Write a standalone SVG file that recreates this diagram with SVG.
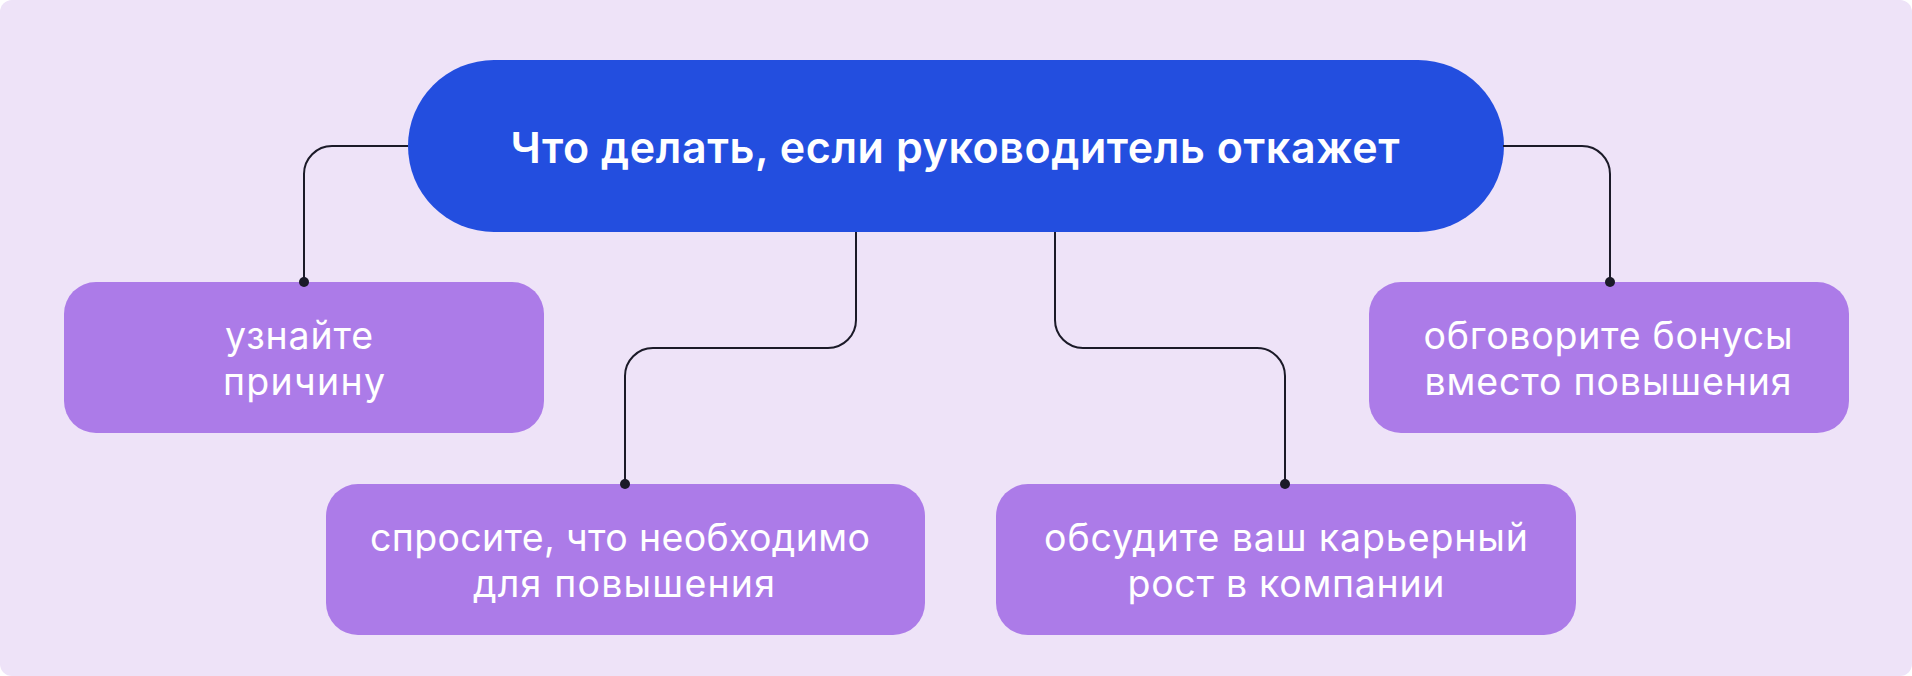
<svg xmlns="http://www.w3.org/2000/svg" width="1912" height="676" viewBox="0 0 1912 676">
<defs>
<style>
.bg{fill:#EEE3F8}
.main{fill:#234EDF}
.box{fill:#AC7BE8}
.title{font-family:Inter,"Open Sans","DejaVu Sans",sans-serif;font-weight:600;font-size:43px;fill:#FFFFFF;text-anchor:middle}
.lbl{font-family:Inter,"Open Sans","DejaVu Sans",sans-serif;font-weight:400;font-size:37.5px;fill:#FFFFFF;text-anchor:middle}
.wire{fill:none;stroke:#1B1A28;stroke-width:2}
.dot{fill:#1B1A28}
</style>
</defs>
<rect x="0" y="0" width="1912" height="676" fill="#FFFFFF"/>
<rect class="bg" x="0" y="0" width="1912" height="676" rx="12" ry="12"/>

<g id="node-main">
<rect class="main" x="408" y="60" width="1096" height="172" rx="86" ry="86"/>
<text class="title" x="955" y="163" textLength="889">Что делать, если руководитель откажет</text>
</g>

<g id="node-reason">
<rect class="box" x="64" y="282" width="480" height="151" rx="32" ry="32"/>
<text class="lbl" x="299" y="349" textLength="148">узнайте</text>
<text class="lbl" x="304" y="395" textLength="162">причину</text>
</g>

<g id="node-ask">
<rect class="box" x="326" y="484" width="599" height="151" rx="32" ry="32"/>
<text class="lbl" x="620" y="551" textLength="500">спросите, что необходимо</text>
<text class="lbl" x="624" y="597" textLength="302">для повышения</text>
</g>

<g id="node-career">
<rect class="box" x="996" y="484" width="580" height="151" rx="32" ry="32"/>
<text class="lbl" x="1286" y="551" textLength="484">обсудите ваш карьерный</text>
<text class="lbl" x="1286" y="597" textLength="317">рост в компании</text>
</g>

<g id="node-bonus">
<rect class="box" x="1369" y="282" width="480" height="151" rx="32" ry="32"/>
<text class="lbl" x="1608" y="349" textLength="369">обговорите бонусы</text>
<text class="lbl" x="1608" y="395" textLength="367">вместо повышения</text>
</g>

<g id="connectors">
<path class="wire" d="M408 146 H332 A28 28 0 0 0 304 174 V282"/>
<circle class="dot" cx="304" cy="282" r="5"/>
<path class="wire" d="M856 232 V320 A28 28 0 0 1 828 348 H653 A28 28 0 0 0 625 376 V484"/>
<circle class="dot" cx="625" cy="484" r="5"/>
<path class="wire" d="M1055 232 V320 A28 28 0 0 0 1083 348 H1257 A28 28 0 0 1 1285 376 V484"/>
<circle class="dot" cx="1285" cy="484" r="5"/>
<path class="wire" d="M1503 146 H1582 A28 28 0 0 1 1610 174 V282"/>
<circle class="dot" cx="1610" cy="282" r="5"/>
</g>
</svg>
